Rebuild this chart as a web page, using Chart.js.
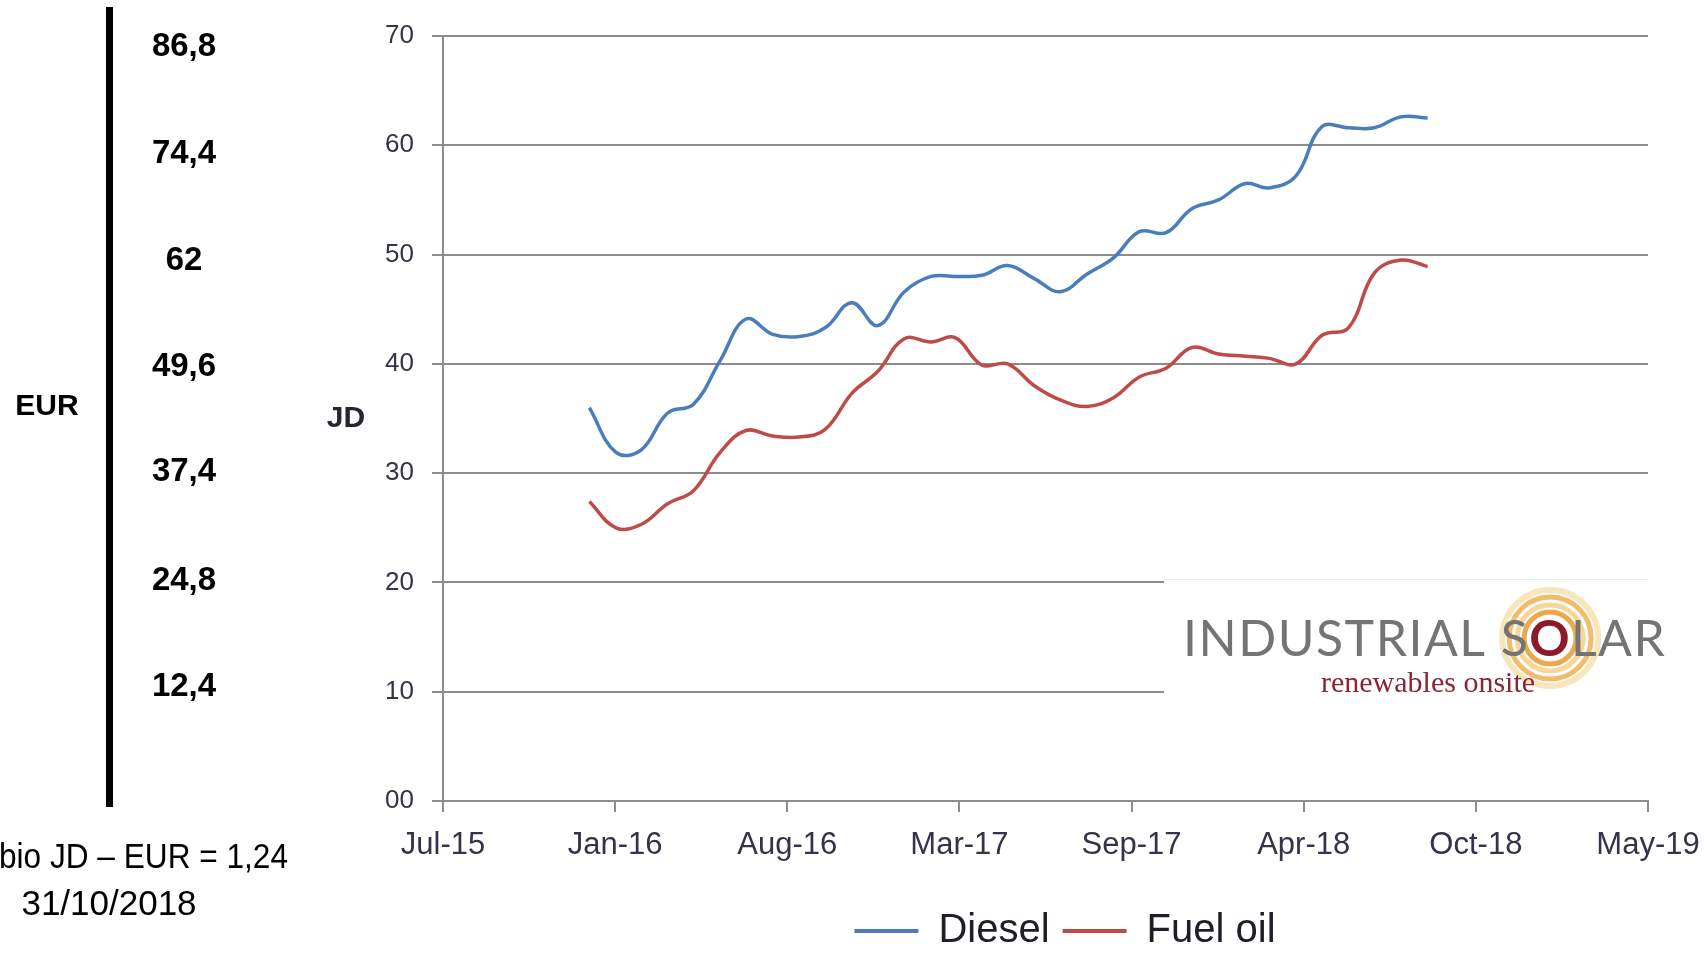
<!DOCTYPE html>
<html>
<head>
<meta charset="utf-8">
<script src="https://cdn.jsdelivr.net/npm/chart.js@4.4.1/dist/chart.umd.min.js"></script>
<style>
  html, body { margin: 0; padding: 0; background: #fff; }
  #chart { display: block; }
</style>
</head>
<body>
<canvas id="chart" width="1704" height="954"></canvas>
<script>
// Datos mensuales (precio en JD)
const months = [
  "2016-01", "2016-02", "2016-03", "2016-04", "2016-05", "2016-06",
  "2016-07", "2016-08", "2016-09", "2016-10", "2016-11", "2016-12",
  "2017-01", "2017-02", "2017-03", "2017-04", "2017-05", "2017-06",
  "2017-07", "2017-08", "2017-09", "2017-10", "2017-11", "2017-12",
  "2018-01", "2018-02", "2018-03", "2018-04", "2018-05", "2018-06",
  "2018-07", "2018-08", "2018-09",
];
const diesel = [
  36.0, 31.9, 32.1, 35.5, 36.3, 40.3,
  44.1, 42.7, 42.5, 43.3, 45.6, 43.5,
  46.6, 48.0, 48.0, 48.1, 49.0, 47.8,
  46.6, 48.2, 49.7, 52.1, 52.0, 54.2,
  55.0, 56.5, 56.1, 57.2, 61.7, 61.6,
  61.6, 62.6, 62.5,
];
const fuelOil = [
  27.4, 25.0, 25.3, 27.2, 28.4, 31.9,
  33.9, 33.4, 33.3, 34.0, 37.3, 39.3,
  42.3, 42.0, 42.4, 39.9, 40.0, 38.0,
  36.7, 36.1, 36.9, 38.8, 39.6, 41.5,
  40.9, 40.7, 40.5, 40.0, 42.6, 43.3,
  48.3, 49.5, 48.9,
];

const xTickLabels = ["Jul-15", "Jan-16", "Aug-16", "Mar-17", "Sep-17", "Apr-18", "Oct-18", "May-19"];
const yTickLabels = ["00", "10", "20", "30", "40", "50", "60", "70"];
const eurLabels = ["86,8", "74,4", "62", "49,6", "37,4", "24,8", "12,4"];
const exchangeRate = 1.24;
const rateText = "bio JD \u2013 EUR = 1,24";
const rateDate = "31/10/2018";

// eje X en dias desde 15-jul-2015, una marca cada 200 dias (como Excel)
const axisStart = Date.UTC(2015, 6, 15);
const tickStep = 200;
const ySteps = 10;

function dayOffset(m) {
  const [yr, mo] = m.split("-").map(Number);
  return (Date.UTC(yr, mo - 1, 1) - axisStart) / 86400000;
}

const gridGray = "#8c8c8c";
const tickColor = "#33334a";

const panelPlugin = {
  id: "panel",
  afterLayout(chart) {
    // la leyenda original va centrada bajo el area del grafico, algo mas abajo
    const lg = chart.legend;
    lg.left = 426;
    lg.right = 1704;
    lg.top += 7;
    lg.bottom += 7;
  },
  afterDraw(chart) {
    const ctx = chart.ctx;
    const yScale = chart.scales.y;
    ctx.save();

    // columna EUR (en el original esta un poco comprimida respecto a JD)
    ctx.fillStyle = "#000";
    ctx.fillRect(106, 7, 7, 800);
    ctx.textAlign = "center";
    ctx.textBaseline = "middle";
    ctx.font = 'bold 30px "Liberation Sans"';
    ctx.fillText("EUR", 47, 407);
    ctx.font = 'bold 33px "Liberation Sans"';
    eurLabels.forEach((label) => {
      const jd = parseFloat(label.replace(",", ".")) / exchangeRate;
      ctx.fillText(label, 184, yScale.getPixelForValue(jd) * 0.976 + 12);
    });

    // titulo JD
    ctx.fillStyle = "#262633";
    ctx.font = 'bold 30px "Liberation Sans"';
    ctx.fillText("JD", 346, 419);

    // tipo de cambio
    ctx.fillStyle = "#000";
    ctx.font = '35px "Liberation Sans"';
    ctx.textAlign = "left";
    ctx.fillText(rateText, -1, 858, 289);
    ctx.textAlign = "center";
    ctx.fillText(rateDate, 109, 905);

    // logo
    ctx.fillStyle = "#fff";
    ctx.fillRect(1164, 579, 490, 123);
    ctx.strokeStyle = "#ececec";
    ctx.lineWidth = 1;
    ctx.beginPath();
    ctx.moveTo(1164, 579.5);
    ctx.lineTo(1648, 579.5);
    ctx.stroke();

    ctx.font = '50px Lato, "Liberation Sans"';
    ctx.letterSpacing = "1.5px";
    ctx.textAlign = "left";
    ctx.textBaseline = "alphabetic";
    const base = 656;
    const part1 = "INDUSTRIAL S";
    const w1 = ctx.measureText(part1).width;
    const wO = ctx.measureText("O").width;
    const left = 1183;
    const cx = left + w1 + wO / 2;
    const cy = base - 18;

    const rings = [
      [48, "rgba(247, 218, 160, 0.7)", 6],
      [41, "rgba(238, 178, 80, 0.85)", 5],
      [33, "rgba(246, 210, 140, 0.9)", 5],
      [26, "rgba(232, 160, 60, 0.9)", 5],
    ];
    rings.forEach(([r, col, lw]) => {
      ctx.strokeStyle = col;
      ctx.lineWidth = lw;
      ctx.beginPath();
      ctx.arc(cx, cy, r, 0, Math.PI * 2);
      ctx.stroke();
    });

    ctx.fillStyle = "#747474";
    ctx.fillText(part1, left, base);
    ctx.fillStyle = "#8b1a2a";
    ctx.font = 'bold 50px Lato, "Liberation Sans"';
    const wOb = ctx.measureText("O").width;
    ctx.fillText("O", cx - wOb / 2, base);
    ctx.font = '50px Lato, "Liberation Sans"';
    ctx.fillStyle = "#747474";
    ctx.fillText("LAR", cx + wO / 2, base);

    ctx.letterSpacing = "0px";
    ctx.fillStyle = "#8b2433";
    ctx.font = '30px "Liberation Serif"';
    ctx.textAlign = "center";
    ctx.fillText("renewables onsite", 1428, 692);

    ctx.restore();
  },
};

const ctx = document.getElementById("chart").getContext("2d");
const fuelChart = new Chart(ctx, {
  type: "line",
  data: {
    datasets: [
      {
        label: "Diesel",
        data: months.map((m, i) => ({ x: dayOffset(m), y: diesel[i] })),
        borderColor: "#4a7ebb",
        backgroundColor: "#4a7ebb",
        borderWidth: 3.5,
        pointRadius: 0,
        tension: 0.4,
      },
      {
        label: "Fuel oil",
        data: months.map((m, i) => ({ x: dayOffset(m), y: fuelOil[i] })),
        borderColor: "#be4b48",
        backgroundColor: "#be4b48",
        borderWidth: 3.5,
        pointRadius: 0,
        tension: 0.4,
      },
    ],
  },
  options: {
    responsive: false,
    animation: false,
    devicePixelRatio: 1,
    layout: { padding: { left: 0, right: 56, top: 36, bottom: 0 } },
    plugins: {
      tooltip: { enabled: false },
      legend: {
        position: "bottom",
        labels: {
          font: { family: "Liberation Sans", size: 40 },
          color: "#1e1e28",
          boxWidth: 64,
          boxHeight: 4,
          padding: 13,
          generateLabels: (chart) =>
            Chart.defaults.plugins.legend.labels
              .generateLabels(chart)
              .map((l) => ({ ...l, lineWidth: 0 })),
        },
      },
    },
    scales: {
      x: {
        type: "linear",
        min: 0,
        max: (xTickLabels.length - 1) * tickStep,
        afterBuildTicks: (scale) => {
          scale.ticks = xTickLabels.map((_, i) => ({ value: i * tickStep }));
        },
        afterFit: (scale) => {
          scale.height = 90;
          scale.paddingLeft = 0;
          scale.paddingRight = 0;
        },
        ticks: {
          callback: (v, i) => xTickLabels[i],
          font: { family: "Liberation Sans", size: 31 },
          color: tickColor,
          padding: 15,
          maxRotation: 0,
          autoSkip: false,
        },
        grid: {
          drawOnChartArea: false,
          tickLength: 11,
          color: gridGray,
          lineWidth: 2,
        },
        border: { color: gridGray, width: 2 },
      },
      y: {
        min: 0,
        max: (yTickLabels.length - 1) * ySteps,
        afterBuildTicks: (scale) => {
          scale.ticks = yTickLabels.map((_, i) => ({ value: i * ySteps }));
        },
        afterFit: (scale) => {
          scale.width = 443;
        },
        ticks: {
          callback: (v, i) => yTickLabels[i],
          font: { family: "Liberation Sans", size: 26 },
          color: tickColor,
          padding: 18,
        },
        grid: {
          tickLength: 11,
          color: gridGray,
          lineWidth: 2,
        },
        border: { color: gridGray, width: 2 },
      },
    },
  },
  plugins: [panelPlugin],
});
</script>
</body>
</html>
